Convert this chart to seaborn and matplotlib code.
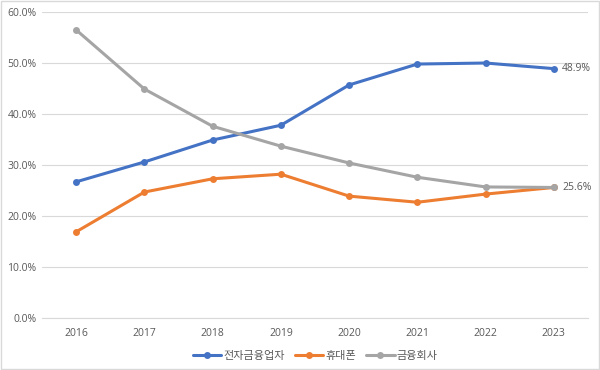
import pandas as pd
import numpy as np
import matplotlib
matplotlib.use('Agg')
import matplotlib.pyplot as plt
import seaborn as sns
from matplotlib.ticker import PercentFormatter

years = ['2016', '2017', '2018', '2019', '2020', '2021', '2022', '2023']
series_names = ['전자금융업자', '휴대폰', '금융회사']
e_finance = [26.7, 30.6, 34.9, 37.8, 45.7, 49.8, 50.0, 48.9]
mobile = [16.9, 24.7, 27.3, 28.2, 23.9, 22.7, 24.3, 25.6]
bank = [56.5, 44.9, 37.6, 33.7, 30.4, 27.6, 25.7, 25.6]
colors = ['#4472C4', '#ED7D31', '#A5A5A5']

df = pd.DataFrame({
    '연도': years * 3,
    '비율': e_finance + mobile + bank,
    '구분': [n for n in series_names for _ in years],
})
df['x'] = df['연도'].map({y: i for i, y in enumerate(years)})

sns.set_style('white')
plt.rcParams['font.family'] = ['Open Sans', 'Noto Sans CJK KR', 'DejaVu Sans']

fig = plt.figure(figsize=(6, 3.7), dpi=100)
ax = fig.add_axes([0.07, 0.1405, 0.91, 0.827])

sns.lineplot(data=df, x='x', y='비율', hue='구분', palette=colors,
             marker='o', markersize=5, markeredgewidth=0, linewidth=2.2,
             ax=ax, legend=True)

ax.set_xlim(-0.5, len(years) - 0.5)
ax.set_ylim(0, 60)
ax.set_yticks(np.arange(0, 61, 10))
ax.yaxis.set_major_formatter(PercentFormatter(decimals=1))
ax.set_xticks(range(len(years)))
ax.set_xticklabels(years)
ax.grid(axis='y', color='#D9D9D9', linewidth=0.8)
ax.set_axisbelow(True)
for s in ['top', 'right', 'left']:
    ax.spines[s].set_visible(False)
ax.spines['bottom'].set_color('#D9D9D9')
ax.tick_params(axis='both', length=0, labelsize=7.5, colors='#595959')
ax.tick_params(axis='y', pad=4)
ax.tick_params(axis='x', pad=7)
ax.set_xlabel('')
ax.set_ylabel('')

# 마지막 값 라벨
ax.text(len(years) - 1 + 0.12, e_finance[-1], f'{e_finance[-1]:.1f}%',
        va='center', ha='left', fontsize=7.5, color='#595959')
ax.text(len(years) - 1 + 0.12, bank[-1], f'{bank[-1]:.1f}%',
        va='center', ha='left', fontsize=7.5, color='#595959')

ax.legend(loc='upper center', bbox_to_anchor=(0.5, -0.075), ncol=3,
          frameon=False, fontsize=8, handlelength=2.6, columnspacing=0.9,
          handletextpad=0.15, labelcolor='#595959')

fig.patches.append(plt.Rectangle((0.002, 0.003), 0.996, 0.994, transform=fig.transFigure,
                                 fill=False, edgecolor='#D9D9D9', linewidth=1))

fig.savefig('out.png', dpi=100)
